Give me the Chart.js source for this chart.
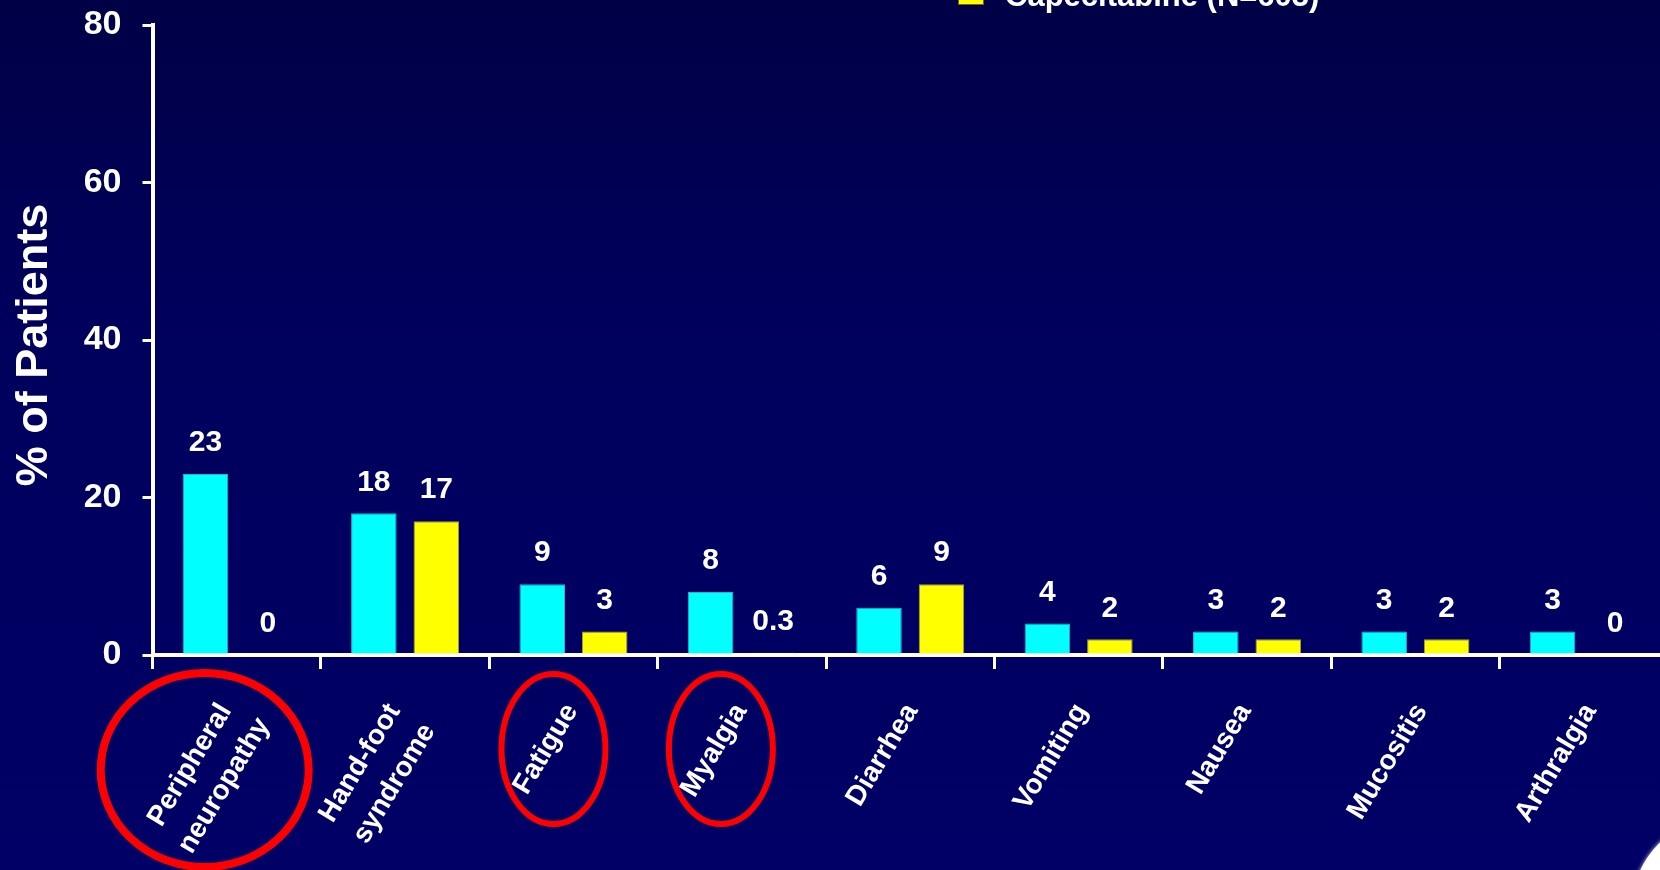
<!DOCTYPE html>
<html><head><meta charset="utf-8">
<script src="https://cdn.jsdelivr.net/npm/chart.js@4/dist/chart.umd.min.js"></script>
<style>
html,body{margin:0;padding:0;overflow:hidden;width:1660px;height:870px;background:#000060;}
#wrap{position:absolute;left:0;top:0;width:1700px;height:870px;}
</style></head><body>
<div id="wrap"><canvas id="c" width="1700" height="870"></canvas></div>
<script>
// ---------- data ----------
const categories = [["Peripheral","neuropathy"],["Hand-foot","syndrome"],["Fatigue"],["Myalgia"],["Diarrhea"],["Vomiting"],["Nausea"],["Mucositis"],["Arthralgia"]];
const seriesNames = ["Ixabepilone + capecitabine (N=595)","Capecitabine (N=603)"];
const ixaCape = [23,18,9,8,6,4,3,3,3];
const cape = [0,17,3,0.3,9,2,2,2,0];
const yTicks = [0,20,40,60,80];
const yTitle = "% of Patients";
const circled = [0,2,3];

// ---------- styles ----------
const FONT = "'Liberation Sans', Arial, Helvetica, sans-serif";
const CYAN = "#00FFFF", YELLOW = "#FFFF00";
const capeColors = cape.map((v,i)=> i===3 ? "#FFFFFF" : YELLOW);
const ellipseStyle = { 0:{dx:-32,cy:770,rx:104,ry:97,lw:8}, 2:{dx:-20,cy:749,rx:52,ry:75,lw:6}, 3:{dx:-21,cy:749,rx:52,ry:75,lw:6} };
const LABEL_ANGLE = -59*Math.PI/180;

const bgPlugin = {
  id:'bg',
  beforeDraw(chart){
    const {ctx,width,height} = chart;
    ctx.save();
    const g = ctx.createLinearGradient(0,0,0,height);
    g.addColorStop(0,'#000046'); g.addColorStop(0.35,'#00005c'); g.addColorStop(1,'#000066');
    ctx.fillStyle = g; ctx.fillRect(0,0,width,height);
    // corner decoration
    ctx.shadowColor='rgba(255,255,255,0.8)'; ctx.shadowBlur=4;
    ctx.fillStyle='#ffffff';
    ctx.beginPath(); ctx.arc(1723,908,91,0,Math.PI*2); ctx.fill();
    ctx.restore();
  }
};

const decoPlugin = {
  id:'deco',
  afterDatasetsDraw(chart){
    const {ctx} = chart;
    ctx.save();
    ctx.fillStyle='#ffffff';
    ctx.font = "bold 30px "+FONT;
    ctx.textAlign='center'; ctx.textBaseline='middle';
    chart.data.datasets.forEach((ds,di)=>{
      const meta = chart.getDatasetMeta(di);
      meta.data.forEach((el,i)=>{
        ctx.fillText(String(ds.data[i]), el.x, el.y-31);
      });
    });
    ctx.restore();
  },
  afterDraw(chart){
    const {ctx} = chart;
    const xs = chart.scales.x;
    ctx.save();
    // x category labels: rotated block, bounding box top-centred under each category
    ctx.fillStyle='#ffffff';
    ctx.font = "bold 28px "+FONT;
    ctx.textAlign='center'; ctx.textBaseline='middle';
    const lh = 40, c = Math.cos(LABEL_ANGLE), s = Math.sin(LABEL_ANGLE);
    const asc = 10.5, desc = 10.5;
    categories.forEach((lines,i)=>{
      const cx = xs.getPixelForValue(i);
      let minX=1e9,maxX=-1e9,minY=1e9,maxY=-1e9;
      lines.forEach((l,j)=>{
        const w = ctx.measureText(l).width;
        const ly = (j-(lines.length-1)/2)*lh;
        [[-w/2,ly-asc],[w/2,ly-asc],[-w/2,ly+desc],[w/2,ly+desc]].forEach(([px,py])=>{
          const rx = px*c - py*s, ry = px*s + py*c;
          minX=Math.min(minX,rx); maxX=Math.max(maxX,rx); minY=Math.min(minY,ry); maxY=Math.max(maxY,ry);
        });
      });
      const ox = (cx - 27.5) - (minX+maxX)/2;
      const oy = 701 - minY;
      ctx.save();
      ctx.translate(ox, oy);
      ctx.rotate(LABEL_ANGLE);
      lines.forEach((l,j)=> ctx.fillText(l, 0, (j-(lines.length-1)/2)*lh));
      ctx.restore();
    });
    // red ellipses
    ctx.strokeStyle='#ff0000';
    circled.forEach(i=>{
      const st = ellipseStyle[i];
      const cx = xs.getPixelForValue(i);
      ctx.lineWidth = st.lw;
      ctx.beginPath(); ctx.ellipse(cx+st.dx, st.cy, st.rx, st.ry, 0, 0, Math.PI*2); ctx.stroke();
    });
    // y title
    ctx.fillStyle='#ffffff';
    ctx.font = "bold 45px "+FONT;
    ctx.textAlign='center'; ctx.textBaseline='middle';
    ctx.save(); ctx.translate(35,345); ctx.rotate(-Math.PI/2); ctx.fillText(yTitle,0,0); ctx.restore();
    // legend (top, partially cut)
    const colors=[CYAN,YELLOW];
    ctx.font = "bold 31px "+FONT;
    ctx.textAlign='left'; ctx.textBaseline='alphabetic';
    seriesNames.forEach((n,k)=>{
      const base = 6 - (1-k)*46;
      ctx.fillStyle=colors[k];
      ctx.fillRect(958, base-27, 26, 26);
      ctx.strokeStyle='rgba(90,90,40,0.9)'; ctx.lineWidth=1;
      ctx.strokeRect(958.5, base-26.5, 25, 25);
      ctx.fillStyle='#ffffff';
      ctx.fillText(n, 1005, base);
    });
    ctx.restore();
  }
};

new Chart(document.getElementById('c'),{
  type:'bar',
  data:{
    labels: categories,
    datasets:[
      {label:seriesNames[0], data:ixaCape, backgroundColor:CYAN, borderColor:'#22b8c4', borderWidth:c=>c.raw===0?0:1, borderSkipped:'bottom'},
      {label:seriesNames[1], data:cape, backgroundColor:capeColors, borderColor:'#a0a040', borderWidth:c=>c.raw===0?0:1, borderSkipped:'bottom'}
    ]
  },
  options:{
    responsive:false, devicePixelRatio:1, animation:false,
    categoryPercentage:0.742, barPercentage:0.729,
    layout:{padding:{top:25,right:32,left:0,bottom:0}},
    plugins:{legend:{display:false}, tooltip:{enabled:false}},
    scales:{
      x:{
        offset:true,
        grid:{display:true, drawOnChartArea:false, drawTicks:true, tickLength:14, color:'#ffffff', lineWidth:3, offset:true},
        border:{display:true, color:'#ffffff', width:4},
        ticks:{display:false},
        afterFit(s){ s.height = 215; s.paddingLeft=0; s.paddingRight=0; s.paddingTop=0; s.paddingBottom=0; }
      },
      y:{
        min:0, max:80,
        afterBuildTicks(s){ s.ticks = yTicks.map(v=>({value:v})); },
        grid:{display:true, drawOnChartArea:false, drawTicks:true, tickLength:10, color:'#ffffff', lineWidth:3},
        border:{display:true, color:'#ffffff', width:4},
        ticks:{color:'#ffffff', font:{family:FONT, size:34, weight:'bold'}, padding:21},
        afterFit(s){ s.width = 152.5; s.paddingTop=0; s.paddingBottom=0; s.paddingLeft=0; s.paddingRight=0; }
      }
    }
  },
  plugins:[bgPlugin, decoPlugin]
});
</script>
</body></html>
